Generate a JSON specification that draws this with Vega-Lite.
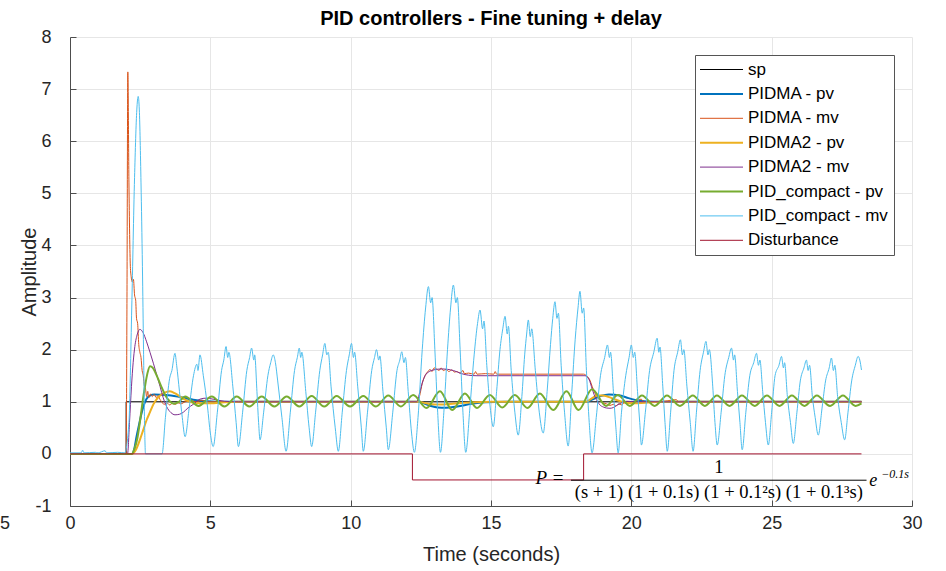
{
"$schema": "https://vega.github.io/schema/vega-lite/v6.json",
"width": 842, "height": 469,
"autosize": {"type": "none"},
"padding": {"left": 70, "top": 37, "right": 34, "bottom": 65},
"background": "white",
"title": {"text": "PID controllers - Fine tuning + delay", "fontSize": 20, "fontWeight": "bold", "font": "Liberation Sans", "color": "#000000", "offset": -1, "anchor": "middle"},
"datasets": {
"sp": [{"t":0,"v":0},{"t":2,"v":0},{"t":2,"v":1},{"t":28.2,"v":1}],
"dist": [{"t":0,"v":0},{"t":12.2,"v":0},{"t":12.2,"v":-0.5},{"t":18.3,"v":-0.5},{"t":18.3,"v":0},{"t":28.2,"v":0}],
"pidma_pv": [{"t":0,"v":0},{"t":2.2,"v":0},{"t":2.3,"v":0.12},{"t":2.37,"v":0.33},{"t":2.46,"v":0.56},{"t":2.55,"v":0.78},{"t":2.64,"v":0.95},{"t":2.73,"v":1.06},{"t":2.85,"v":1.12},{"t":3.0,"v":1.14},{"t":3.44,"v":1.13},{"t":3.92,"v":1.09},{"t":4.39,"v":1.04},{"t":4.9,"v":1.01},{"t":5.5,"v":1.0},{"t":12.4,"v":1.0},{"t":12.6,"v":0.97},{"t":12.85,"v":0.92},{"t":13.1,"v":0.89},{"t":13.4,"v":0.885},{"t":13.8,"v":0.91},{"t":14.3,"v":0.96},{"t":14.8,"v":0.99},{"t":15.5,"v":1.0},{"t":18.4,"v":1.0},{"t":18.6,"v":1.04},{"t":18.9,"v":1.11},{"t":19.2,"v":1.14},{"t":19.6,"v":1.12},{"t":19.9,"v":1.07},{"t":20.3,"v":1.02},{"t":20.8,"v":1.0},{"t":28.2,"v":1.0}],
"pidma_mv": [{"t":0,"v":0},{"t":2.0,"v":0},{"t":2.03,"v":3.0},{"t":2.06,"v":7.33},{"t":2.1,"v":5.2},{"t":2.15,"v":3.6},{"t":2.18,"v":3.4},{"t":2.22,"v":3.3},{"t":2.26,"v":3.35},{"t":2.3,"v":3.05},{"t":2.34,"v":2.95},{"t":2.37,"v":2.6},{"t":2.41,"v":2.5},{"t":2.45,"v":2.1},{"t":2.49,"v":1.95},{"t":2.53,"v":1.85},{"t":2.57,"v":1.6},{"t":2.61,"v":1.5},{"t":2.65,"v":1.3},{"t":2.69,"v":1.25},{"t":2.73,"v":1.1},{"t":2.77,"v":1.2},{"t":2.81,"v":1.08},{"t":2.87,"v":1.15},{"t":2.93,"v":1.1},{"t":3.0,"v":1.14},{"t":3.07,"v":1.08},{"t":3.14,"v":1.12},{"t":3.2,"v":1.05},{"t":3.27,"v":1.0},{"t":3.35,"v":0.95},{"t":3.45,"v":0.98},{"t":3.55,"v":0.94},{"t":3.65,"v":0.97},{"t":3.75,"v":0.95},{"t":3.85,"v":0.98},{"t":3.95,"v":0.96},{"t":4.1,"v":1.0},{"t":4.3,"v":1.02},{"t":4.5,"v":1.0},{"t":4.7,"v":1.03},{"t":4.85,"v":1.0},{"t":5.3,"v":1.0},{"t":12.35,"v":1.0},{"t":12.45,"v":1.1},{"t":12.55,"v":1.35},{"t":12.65,"v":1.5},{"t":12.75,"v":1.58},{"t":12.83,"v":1.62},{"t":12.9,"v":1.58},{"t":12.97,"v":1.65},{"t":13.06,"v":1.63},{"t":13.15,"v":1.6},{"t":13.22,"v":1.65},{"t":13.3,"v":1.6},{"t":13.4,"v":1.62},{"t":13.5,"v":1.58},{"t":13.6,"v":1.61},{"t":13.7,"v":1.57},{"t":13.78,"v":1.58},{"t":13.9,"v":1.55},{"t":14.0,"v":1.6},{"t":14.05,"v":1.54},{"t":14.2,"v":1.55},{"t":14.4,"v":1.53},{"t":14.45,"v":1.58},{"t":14.5,"v":1.53},{"t":14.8,"v":1.54},{"t":15.1,"v":1.53},{"t":15.15,"v":1.58},{"t":15.2,"v":1.53},{"t":16.0,"v":1.53},{"t":17.0,"v":1.53},{"t":18.3,"v":1.53},{"t":18.4,"v":1.5},{"t":18.52,"v":1.42},{"t":18.6,"v":1.3},{"t":18.7,"v":1.17},{"t":18.8,"v":1.08},{"t":18.88,"v":1.03},{"t":19.0,"v":0.98},{"t":19.12,"v":0.96},{"t":19.24,"v":0.93},{"t":19.36,"v":0.95},{"t":19.45,"v":0.92},{"t":19.55,"v":0.96},{"t":19.65,"v":0.94},{"t":19.75,"v":0.98},{"t":19.9,"v":0.97},{"t":20.1,"v":1.0},{"t":20.35,"v":1.05},{"t":20.45,"v":1.0},{"t":21.0,"v":1.0},{"t":21.6,"v":1.04},{"t":21.7,"v":1.0},{"t":28.2,"v":1.0}],
"pidma2_pv": [{"t":0,"v":0},{"t":2.2,"v":0},{"t":2.35,"v":0.08},{"t":2.49,"v":0.27},{"t":2.61,"v":0.46},{"t":2.73,"v":0.65},{"t":2.85,"v":0.8},{"t":2.97,"v":0.95},{"t":3.09,"v":1.05},{"t":3.25,"v":1.14},{"t":3.44,"v":1.19},{"t":3.56,"v":1.2},{"t":3.75,"v":1.16},{"t":3.92,"v":1.1},{"t":4.1,"v":1.04},{"t":4.27,"v":1.0},{"t":4.6,"v":0.97},{"t":5.0,"v":0.97},{"t":5.5,"v":0.99},{"t":6.0,"v":1.0},{"t":12.4,"v":1.0},{"t":12.7,"v":0.97},{"t":13.0,"v":0.95},{"t":13.3,"v":0.95},{"t":13.8,"v":0.97},{"t":14.4,"v":0.99},{"t":15.0,"v":1.0},{"t":18.4,"v":1.0},{"t":18.55,"v":1.05},{"t":18.8,"v":1.12},{"t":19.0,"v":1.12},{"t":19.3,"v":1.07},{"t":19.6,"v":1.01},{"t":20.0,"v":0.97},{"t":20.5,"v":0.98},{"t":21.0,"v":1.0},{"t":28.2,"v":1.0}],
"pidma2_mv": [{"t":0,"v":0},{"t":2.05,"v":0},{"t":2.12,"v":0.6},{"t":2.19,"v":1.29},{"t":2.25,"v":1.75},{"t":2.31,"v":2.06},{"t":2.4,"v":2.3},{"t":2.49,"v":2.39},{"t":2.6,"v":2.33},{"t":2.73,"v":2.15},{"t":2.85,"v":1.95},{"t":2.97,"v":1.74},{"t":3.1,"v":1.5},{"t":3.21,"v":1.29},{"t":3.32,"v":1.08},{"t":3.44,"v":0.91},{"t":3.6,"v":0.79},{"t":3.74,"v":0.75},{"t":3.9,"v":0.76},{"t":4.04,"v":0.8},{"t":4.2,"v":0.88},{"t":4.39,"v":0.95},{"t":4.63,"v":1.05},{"t":4.85,"v":1.07},{"t":5.1,"v":1.05},{"t":5.5,"v":1.01},{"t":6.0,"v":1.0},{"t":12.35,"v":1.0},{"t":12.47,"v":1.2},{"t":12.56,"v":1.38},{"t":12.65,"v":1.5},{"t":12.8,"v":1.58},{"t":12.94,"v":1.61},{"t":13.24,"v":1.63},{"t":13.66,"v":1.6},{"t":13.95,"v":1.54},{"t":14.2,"v":1.51},{"t":14.5,"v":1.5},{"t":18.35,"v":1.5},{"t":18.5,"v":1.42},{"t":18.58,"v":1.29},{"t":18.7,"v":1.1},{"t":18.8,"v":1.0},{"t":18.88,"v":0.94},{"t":19.0,"v":0.9},{"t":19.12,"v":0.88},{"t":19.24,"v":0.875},{"t":19.36,"v":0.89},{"t":19.48,"v":0.93},{"t":19.65,"v":0.98},{"t":19.85,"v":1.01},{"t":20.2,"v":1.0},{"t":28.2,"v":1.0}],
"pc_pv": [{"t":0,"v":0},{"t":2.2,"v":0},{"t":2.3,"v":0.1},{"t":2.4,"v":0.3},{"t":2.5,"v":0.65},{"t":2.6,"v":1.05},{"t":2.67,"v":1.29},{"t":2.76,"v":1.55},{"t":2.85,"v":1.68},{"t":2.95,"v":1.65},{"t":3.05,"v":1.55},{"t":3.17,"v":1.4},{"t":3.27,"v":1.27},{"t":3.4,"v":1.12},{"t":3.55,"v":1.01},{"t":3.7,"v":0.96},{"t":3.88,"v":1.0},{"t":4.1,"v":1.1},{"t":4.58,"v":0.92},{"t":5.05,"v":1.1},{"t":5.5,"v":0.91},{"t":5.94,"v":1.1},{"t":6.39,"v":0.91},{"t":6.83,"v":1.1},{"t":7.28,"v":0.91},{"t":7.72,"v":1.1},{"t":8.17,"v":0.91},{"t":8.61,"v":1.11},{"t":9.06,"v":0.91},{"t":9.5,"v":1.11},{"t":9.98,"v":0.91},{"t":10.45,"v":1.11},{"t":10.9,"v":0.91},{"t":11.34,"v":1.12},{"t":11.79,"v":0.91},{"t":12.23,"v":1.13},{"t":12.7,"v":0.88},{"t":13.18,"v":1.2},{"t":13.62,"v":0.84},{"t":14.07,"v":1.16},{"t":14.5,"v":0.88},{"t":14.96,"v":1.13},{"t":15.4,"v":0.89},{"t":15.85,"v":1.13},{"t":16.3,"v":0.88},{"t":16.74,"v":1.16},{"t":17.22,"v":0.84},{"t":17.69,"v":1.2},{"t":18.12,"v":0.84},{"t":18.6,"v":1.24},{"t":19.1,"v":0.92},{"t":19.52,"v":1.13},{"t":19.95,"v":0.92},{"t":20.38,"v":1.12},{"t":20.83,"v":0.92},{"t":21.27,"v":1.12},{"t":21.73,"v":0.92},{"t":22.19,"v":1.12},{"t":22.62,"v":0.92},{"t":23.05,"v":1.12},{"t":23.5,"v":0.92},{"t":23.94,"v":1.12},{"t":24.4,"v":0.92},{"t":24.83,"v":1.12},{"t":25.28,"v":0.92},{"t":25.72,"v":1.12},{"t":26.17,"v":0.92},{"t":26.61,"v":1.12},{"t":27.08,"v":0.92},{"t":27.54,"v":1.12},{"t":27.99,"v":0.92},{"t":28.2,"v":0.97}],
"pc_mv": [{"t":0,"v":0.02},{"t":0.4,"v":0.02},{"t":0.45,"v":0.07},{"t":0.5,"v":0.02},{"t":0.9,"v":0.03},{"t":1.0,"v":0.02},{"t":1.25,"v":0.06},{"t":1.3,"v":0.02},{"t":1.7,"v":0.03},{"t":1.95,"v":0.02},{"t":2.1,"v":0.6},{"t":2.2,"v":2.8},{"t":2.3,"v":5.3},{"t":2.38,"v":6.6},{"t":2.43,"v":6.86},{"t":2.47,"v":6.6},{"t":2.53,"v":5.2},{"t":2.58,"v":3.6},{"t":2.62,"v":2.0},{"t":2.66,"v":0.5},{"t":2.69,"v":0.0},{"t":3.28,"v":0.0},
{"t":3.4,"v":0.7},{"t":3.55,"v":1.45},{"t":3.63,"v":1.6},{"t":3.74,"v":1.93},{"t":3.8,"v":1.7},{"t":3.9,"v":1.2},{"t":4.0,"v":0.7},{"t":4.1,"v":0.33},
{"t":4.25,"v":0.9},{"t":4.4,"v":1.5},{"t":4.52,"v":1.72},{"t":4.56,"v":1.6},{"t":4.63,"v":1.9},{"t":4.75,"v":1.5},{"t":4.9,"v":0.9},{"t":5.0,"v":0.4},{"t":5.1,"v":0.14},
{"t":5.25,"v":0.8},{"t":5.4,"v":1.6},{"t":5.48,"v":1.8},{"t":5.56,"v":2.06},{"t":5.62,"v":1.85},{"t":5.66,"v":1.95},{"t":5.8,"v":1.3},{"t":5.92,"v":0.6},{"t":6.0,"v":0.14},
{"t":6.15,"v":0.8},{"t":6.3,"v":1.6},{"t":6.4,"v":1.85},{"t":6.47,"v":2.03},{"t":6.55,"v":1.8},{"t":6.58,"v":1.9},{"t":6.66,"v":1.2},{"t":6.72,"v":0.6},{"t":6.77,"v":0.27},
{"t":6.9,"v":0.8},{"t":7.05,"v":1.5},{"t":7.15,"v":1.75},{"t":7.24,"v":1.9},{"t":7.32,"v":1.75},{"t":7.4,"v":1.4},{"t":7.55,"v":0.7},{"t":7.7,"v":0.05},
{"t":7.85,"v":0.8},{"t":8.0,"v":1.6},{"t":8.1,"v":1.85},{"t":8.17,"v":2.03},{"t":8.22,"v":1.85},{"t":8.26,"v":1.95},{"t":8.4,"v":1.2},{"t":8.52,"v":0.5},{"t":8.61,"v":0.14},
{"t":8.75,"v":0.8},{"t":8.9,"v":1.6},{"t":9.0,"v":1.9},{"t":9.08,"v":2.12},{"t":9.15,"v":1.9},{"t":9.2,"v":1.95},{"t":9.3,"v":1.3},{"t":9.45,"v":0.5},{"t":9.56,"v":0.05},
{"t":9.7,"v":0.8},{"t":9.85,"v":1.6},{"t":9.95,"v":1.9},{"t":10.03,"v":2.12},{"t":10.1,"v":1.85},{"t":10.14,"v":1.95},{"t":10.25,"v":1.3},{"t":10.38,"v":0.5},{"t":10.45,"v":0.05},
{"t":10.6,"v":0.8},{"t":10.75,"v":1.6},{"t":10.85,"v":1.85},{"t":10.92,"v":2.0},{"t":11.0,"v":1.8},{"t":11.04,"v":1.88},{"t":11.15,"v":1.2},{"t":11.27,"v":0.5},{"t":11.34,"v":0.08},
{"t":11.5,"v":0.8},{"t":11.65,"v":1.6},{"t":11.75,"v":1.8},{"t":11.82,"v":1.96},{"t":11.9,"v":1.75},{"t":11.95,"v":1.85},{"t":12.05,"v":1.2},{"t":12.17,"v":0.4},{"t":12.27,"v":0.03},
{"t":12.4,"v":0.7},{"t":12.55,"v":2.0},{"t":12.67,"v":2.8},{"t":12.77,"v":3.21},{"t":12.85,"v":2.9},{"t":12.9,"v":3.0},{"t":13.0,"v":2.0},{"t":13.1,"v":0.8},{"t":13.2,"v":0.03},
{"t":13.32,"v":0.8},{"t":13.45,"v":2.0},{"t":13.56,"v":2.8},{"t":13.66,"v":3.24},{"t":13.75,"v":2.9},{"t":13.8,"v":3.0},{"t":13.9,"v":2.0},{"t":14.0,"v":0.8},{"t":14.1,"v":0.03},
{"t":14.25,"v":0.9},{"t":14.4,"v":1.9},{"t":14.52,"v":2.5},{"t":14.61,"v":2.76},{"t":14.7,"v":2.4},{"t":14.75,"v":2.55},{"t":14.85,"v":1.7},{"t":14.97,"v":0.9},{"t":15.08,"v":0.52},
{"t":15.2,"v":1.2},{"t":15.32,"v":2.0},{"t":15.42,"v":2.4},{"t":15.5,"v":2.64},{"t":15.58,"v":2.3},{"t":15.62,"v":2.45},{"t":15.72,"v":1.6},{"t":15.85,"v":0.8},{"t":15.97,"v":0.36},
{"t":16.1,"v":1.1},{"t":16.2,"v":1.9},{"t":16.27,"v":2.3},{"t":16.33,"v":2.57},{"t":16.4,"v":2.25},{"t":16.45,"v":2.4},{"t":16.58,"v":1.6},{"t":16.72,"v":0.8},{"t":16.86,"v":0.4},
{"t":17.0,"v":1.2},{"t":17.12,"v":2.1},{"t":17.2,"v":2.6},{"t":17.28,"v":2.92},{"t":17.35,"v":2.6},{"t":17.4,"v":2.7},{"t":17.5,"v":1.7},{"t":17.62,"v":0.8},{"t":17.75,"v":0.15},
{"t":17.88,"v":1.2},{"t":18.0,"v":2.2},{"t":18.1,"v":2.8},{"t":18.17,"v":3.12},{"t":18.25,"v":2.7},{"t":18.3,"v":2.8},{"t":18.4,"v":1.6},{"t":18.5,"v":0.6},{"t":18.6,"v":0.02},
{"t":18.75,"v":0.7},{"t":18.9,"v":1.5},{"t":19.05,"v":1.85},{"t":19.15,"v":2.09},{"t":19.22,"v":1.85},{"t":19.26,"v":1.95},{"t":19.36,"v":1.2},{"t":19.45,"v":0.5},{"t":19.53,"v":0.02},
{"t":19.65,"v":0.8},{"t":19.8,"v":1.5},{"t":19.92,"v":1.85},{"t":20.0,"v":2.09},{"t":20.07,"v":1.85},{"t":20.12,"v":1.95},{"t":20.22,"v":1.2},{"t":20.3,"v":0.6},{"t":20.36,"v":0.17},
{"t":20.5,"v":0.8},{"t":20.65,"v":1.6},{"t":20.8,"v":1.95},{"t":20.92,"v":2.22},{"t":20.98,"v":1.95},{"t":21.02,"v":2.05},{"t":21.12,"v":1.3},{"t":21.2,"v":0.6},{"t":21.28,"v":0.05},
{"t":21.4,"v":0.8},{"t":21.52,"v":1.6},{"t":21.65,"v":1.95},{"t":21.75,"v":2.19},{"t":21.82,"v":1.9},{"t":21.87,"v":2.0},{"t":21.98,"v":1.3},{"t":22.1,"v":0.6},{"t":22.2,"v":0.05},
{"t":22.32,"v":0.8},{"t":22.45,"v":1.6},{"t":22.57,"v":1.95},{"t":22.66,"v":2.16},{"t":22.73,"v":1.9},{"t":22.78,"v":2.0},{"t":22.9,"v":1.3},{"t":22.98,"v":0.6},{"t":23.06,"v":0.17},
{"t":23.2,"v":0.8},{"t":23.33,"v":1.5},{"t":23.47,"v":1.85},{"t":23.57,"v":2.03},{"t":23.64,"v":1.8},{"t":23.68,"v":1.9},{"t":23.78,"v":1.2},{"t":23.87,"v":0.6},{"t":23.95,"v":0.08},
{"t":24.08,"v":0.8},{"t":24.22,"v":1.5},{"t":24.36,"v":1.75},{"t":24.46,"v":1.93},{"t":24.53,"v":1.7},{"t":24.58,"v":1.8},{"t":24.68,"v":1.2},{"t":24.78,"v":0.6},{"t":24.88,"v":0.17},
{"t":25.0,"v":0.8},{"t":25.12,"v":1.5},{"t":25.26,"v":1.7},{"t":25.35,"v":1.87},{"t":25.42,"v":1.65},{"t":25.46,"v":1.75},{"t":25.56,"v":1.1},{"t":25.67,"v":0.6},{"t":25.77,"v":0.2},
{"t":25.9,"v":0.8},{"t":26.02,"v":1.4},{"t":26.15,"v":1.65},{"t":26.24,"v":1.8},{"t":26.3,"v":1.6},{"t":26.35,"v":1.7},{"t":26.45,"v":1.1},{"t":26.55,"v":0.7},{"t":26.66,"v":0.36},
{"t":26.8,"v":0.9},{"t":26.92,"v":1.4},{"t":27.05,"v":1.65},{"t":27.13,"v":1.84},{"t":27.2,"v":1.6},{"t":27.25,"v":1.7},{"t":27.35,"v":1.1},{"t":27.48,"v":0.6},{"t":27.6,"v":0.27},
{"t":27.72,"v":0.8},{"t":27.85,"v":1.4},{"t":27.98,"v":1.7},{"t":28.08,"v":1.87},{"t":28.14,"v":1.8},{"t":28.2,"v":1.61}]
},
"encoding": {
"x": {"field": "t", "type": "quantitative", "scale": {"domain": [0, 30], "nice": false, "zero": false}, "axis": {"title": "Time (seconds)", "values": [0,5,10,15,20,25,30]}},
"y": {"field": "v", "type": "quantitative", "scale": {"domain": [-1, 8], "nice": false, "zero": false}, "axis": {"title": "Amplitude", "values": [-1,0,1,2,3,4,5,6,7,8], "labelExpr": "'' + datum.value"}}
},
"layer": [
{"data": {"name": "sp"}, "mark": {"type": "line", "strokeWidth": 1}, "encoding": {"color": {"datum": "sp", "scale": {"domain": ["sp","PIDMA - pv","PIDMA - mv","PIDMA2 - pv","PIDMA2 - mv","PID_compact - pv","PID_compact - mv","Disturbance"], "range": ["#000000","#0072BD","#D95319","#EDB120","#7E2F8E","#77AC30","#4DBEEE","#A2142F"]}, "legend": {"title": null, "orient": "none", "legendX": 625, "legendY": 18, "symbolType": "stroke", "symbolSize": 1849, "symbolStrokeWidth": 1, "symbolOffset": 12, "labelFont": "Liberation Sans", "labelFontSize": 17, "labelColor": "#000000", "labelOffset": 18, "padding": 6, "rowPadding": 6.4, "fillColor": "#ffffff", "strokeColor": "#555555", "labelLimit": 400, "encode": {"symbols": {"update": {"strokeWidth": {"signal": "indexof(['PIDMA - pv','PIDMA2 - pv','PID_compact - pv'], datum.value) >= 0 ? 2 : 1"}}}}}}}},
{"data": {"name": "pidma_pv"}, "mark": {"type": "line", "strokeWidth": 2, "interpolate": "monotone"}, "encoding": {"color": {"datum": "PIDMA - pv"}}},
{"data": {"name": "pidma_mv"}, "mark": {"type": "line", "strokeWidth": 1, "interpolate": "monotone"}, "encoding": {"color": {"datum": "PIDMA - mv"}}},
{"data": {"name": "pidma2_pv"}, "mark": {"type": "line", "strokeWidth": 2, "interpolate": "monotone"}, "encoding": {"color": {"datum": "PIDMA2 - pv"}}},
{"data": {"name": "pidma2_mv"}, "mark": {"type": "line", "strokeWidth": 1, "interpolate": "monotone"}, "encoding": {"color": {"datum": "PIDMA2 - mv"}}},
{"data": {"name": "pc_pv"}, "mark": {"type": "line", "strokeWidth": 2, "interpolate": "monotone"}, "encoding": {"color": {"datum": "PID_compact - pv"}}},
{"data": {"name": "pc_mv"}, "mark": {"type": "line", "strokeWidth": 1, "interpolate": "monotone"}, "encoding": {"color": {"datum": "PID_compact - mv"}}},
{"data": {"name": "dist"}, "mark": {"type": "line", "strokeWidth": 1}, "encoding": {"color": {"datum": "Disturbance"}}},
{"data": {"values": [{"t": 17.85, "t2": 28.38, "v": -0.505}]}, "mark": {"type": "rule", "color": "#000000", "strokeWidth": 1}, "encoding": {"x2": {"field": "t2"}}},
{"data": {"values": [{"t": 17.1, "v": -0.46, "label": "P ="}]}, "mark": {"type": "text", "font": "Liberation Serif", "fontStyle": "italic", "fontSize": 19, "align": "center", "baseline": "middle", "color": "#000000"}, "encoding": {"text": {"field": "label"}}},
{"data": {"values": [{"t": 23.12, "v": -0.26, "label": "1"}, {"t": 23.12, "v": -0.74, "label": "(s + 1) (1 + 0.1s) (1 + 0.1²s) (1 + 0.1³s)"}]}, "mark": {"type": "text", "font": "Liberation Serif", "fontSize": 18.5, "align": "center", "baseline": "middle", "color": "#000000"}, "encoding": {"text": {"field": "label"}}},
{"data": {"values": [{"t": 28.62, "v": -0.52, "label": "e"}]}, "mark": {"type": "text", "font": "Liberation Serif", "fontStyle": "italic", "fontSize": 18, "align": "center", "baseline": "middle", "color": "#000000"}, "encoding": {"text": {"field": "label"}}},
{"data": {"values": [{"t": 29.4, "v": -0.39, "label": "−0.1s"}]}, "mark": {"type": "text", "font": "Liberation Serif", "fontStyle": "italic", "fontSize": 12, "align": "center", "baseline": "middle", "color": "#000000"}, "encoding": {"text": {"field": "label"}}},
{"data": {"values": [{"t": -2.32, "v": -1.34, "label": "5"}]}, "mark": {"type": "text", "font": "Liberation Sans", "fontSize": 18, "align": "center", "baseline": "middle", "color": "#262626"}, "encoding": {"text": {"field": "label"}}}
],
"config": {
"view": {"stroke": null},
"axis": {"labelFont": "Liberation Sans", "labelFontSize": 18, "labelColor": "#262626", "titleFont": "Liberation Sans", "titleFontSize": 20, "titleFontWeight": "normal", "titleColor": "#262626", "grid": true, "gridColor": "#e6e6e6", "domainColor": "#4d4d4d", "tickColor": "#4d4d4d", "tickSize": -6, "labelFlush": false, "labelOverlap": false},
"axisX": {"titlePadding": 12, "labelPadding": 14},
"axisY": {"titlePadding": -5, "labelPadding": 25}
}
}
